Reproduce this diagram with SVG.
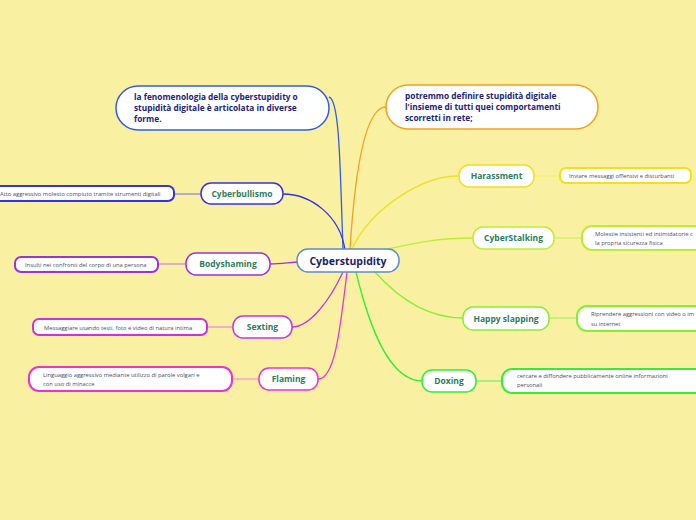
<svg xmlns="http://www.w3.org/2000/svg" width="696" height="520" viewBox="0 0 696 520">
<style>
.box{fill:#fff;stroke-width:1.5}
.node{fill:#fff;stroke-width:1.5}
.leaf{fill:#fff;stroke-width:2}
.lbl{font-family:"Open Sans","Noto Sans",sans-serif;font-weight:bold;font-size:8.5px;fill:#2e7d5e;text-anchor:middle}
.big{font-family:"Open Sans","Noto Sans",sans-serif;font-weight:bold;font-size:8.3px;fill:#23237a}
.lt{font-family:"Open Sans","Noto Sans",sans-serif;font-size:5.8px;fill:#4a4a6a}
.c{fill:none;stroke-width:1.3}
</style>
<rect width="696" height="520" fill="#FAF0A2"/>
<g id="connectors">
<path class="c" stroke="#2f5fe0" d="M343 249 C340 170 340 100 329 97"/>
<path class="c" stroke="#f5a020" d="M350 249 C355 170 365 107 386 107"/>
<path class="c" stroke="#3333e0" d="M345 250 C340 215 310 194 283 194"/>
<path class="c" stroke="#9933e0" d="M297 262 C285 263 280 264 270 264"/>
<path class="c" stroke="#cc33e0" d="M343 272 C330 300 310 327 292 327"/>
<path class="c" stroke="#ee33cc" d="M347 272 C340 330 335 379 318 379"/>
<path class="c" stroke="#f0e020" d="M352 249 C370 210 420 176 459 176"/>
<path class="c" stroke="#bbee33" d="M388 249 C420 242 440 238 473 238"/>
<path class="c" stroke="#88ee33" d="M375 272 C400 300 430 318 463 318"/>
<path class="c" stroke="#33ee33" d="M356 272 C370 330 390 381 422 381"/>
<path class="c" stroke="#8888dd" d="M174 194 L201 194"/>
<path class="c" stroke="#cc88dd" d="M158 264 L186 264"/>
<path class="c" stroke="#ee88dd" d="M207 327 L233 327"/>
<path class="c" stroke="#ff99cc" d="M232 379 L259 379"/>
<path class="c" stroke="#f5ee70" d="M534 176 L560 176"/>
<path class="c" stroke="#ccee70" d="M554 238 L582 238"/>
<path class="c" stroke="#aaee70" d="M549 318 L577 318"/>
<path class="c" stroke="#77ee77" d="M476 381 L502 381"/>
</g>
<g id="center">
<rect class="node" x="297" y="249" width="102" height="23" rx="11" stroke="#5b8fc9"/>
<text x="348" y="264.5" text-anchor="middle" style="font-family:'Open Sans','Noto Sans',sans-serif;font-weight:bold;font-size:10.5px;fill:#1c1c6a">Cyberstupidity</text>
</g>
<g id="intro">
<rect class="box" x="116" y="86" width="213" height="44" rx="22" stroke="#2f5fe0"/>
<text class="big" x="134" y="100">la fenomenologia della cyberstupidity o</text>
<text class="big" x="134" y="111">stupidità digitale è articolata in diverse</text>
<text class="big" x="134" y="122">forme.</text>
</g>
<g id="definition">
<rect class="box" x="386" y="85" width="212" height="44" rx="22" stroke="#f5a020"/>
<text class="big" x="405" y="99">potremmo definire stupidità digitale</text>
<text class="big" x="405" y="110">l'insieme di tutti quei comportamenti</text>
<text class="big" x="405" y="121">scorretti in rete;</text>
</g>
<g id="cyberbullismo">
<rect class="node" x="201" y="183" width="82" height="21" rx="10" stroke="#3333e0"/>
<text class="lbl" x="242" y="197">Cyberbullismo</text>
<rect class="leaf" x="-5" y="186" width="179" height="15" rx="6" stroke="#3333e0"/>
<text class="lt" x="0" y="196">Atto aggressivo molesto compiuto tramite strumenti digitali</text>
</g>
<g id="bodyshaming">
<rect class="node" x="186" y="253" width="84" height="22" rx="10" stroke="#9933e0"/>
<text class="lbl" x="228" y="267">Bodyshaming</text>
<rect class="leaf" x="15" y="257" width="143" height="15" rx="6" stroke="#9933e0"/>
<text class="lt" x="25" y="267">Insulti nei confronti del corpo di una persona</text>
</g>
<g id="sexting">
<rect class="node" x="233" y="316" width="59" height="22" rx="10" stroke="#cc33e0"/>
<text class="lbl" x="262.5" y="330">Sexting</text>
<rect class="leaf" x="33" y="319" width="174" height="16" rx="6" stroke="#cc33e0"/>
<text class="lt" x="44" y="330">Messaggiare usando testi, foto e video di natura intima</text>
</g>
<g id="flaming">
<rect class="node" x="259" y="368" width="59" height="22" rx="10" stroke="#ee33cc"/>
<text class="lbl" x="288.5" y="382">Flaming</text>
<rect class="leaf" x="29" y="367" width="203" height="24" rx="10" stroke="#ee33cc"/>
<text class="lt" x="43" y="377">Linguaggio aggressivo mediante utilizzo  di parole volgari e</text>
<text class="lt" x="43" y="386">con uso di minacce</text>
</g>
<g id="harassment">
<rect class="node" x="459" y="165" width="75" height="22" rx="10" stroke="#f0e020"/>
<text class="lbl" x="496.5" y="179">Harassment</text>
<rect class="leaf" x="560" y="168" width="131" height="15" rx="6" stroke="#f0e020"/>
<text class="lt" x="569" y="178">Inviare  messaggi offensivi e disturbanti</text>
</g>
<g id="cyberstalking">
<rect class="node" x="473" y="227" width="81" height="22" rx="10" stroke="#bbee33"/>
<text class="lbl" x="513.5" y="241">CyberStalking</text>
<rect class="leaf" x="582" y="226" width="130" height="24" rx="10" stroke="#bbee33"/>
<text class="lt" x="595" y="236">Molestie insistenti ed intimidatorie c</text>
<text class="lt" x="595" y="245">la propria sicurezza fisica</text>
</g>
<g id="happyslapping">
<rect class="node" x="463" y="307" width="86" height="23" rx="10" stroke="#88ee33"/>
<text class="lbl" x="506" y="322">Happy slapping</text>
<rect class="leaf" x="577" y="306" width="130" height="25" rx="10" stroke="#88ee33"/>
<text class="lt" x="591" y="316">Riprendere aggressioni con video o im</text>
<text class="lt" x="591" y="326">su internet</text>
</g>
<g id="doxing">
<rect class="node" x="422" y="370" width="54" height="22" rx="10" stroke="#33ee33"/>
<text class="lbl" x="449" y="384">Doxing</text>
<rect class="leaf" x="502" y="369" width="210" height="24" rx="10" stroke="#33ee33"/>
<text class="lt" x="517" y="378">cercare e diffondere pubblicamente online informazioni</text>
<text class="lt" x="517" y="387">personali</text>
</g>
</svg>
